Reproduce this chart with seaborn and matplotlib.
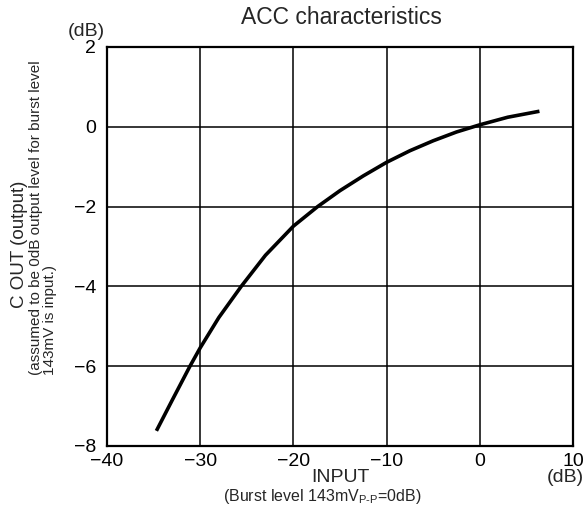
import matplotlib
matplotlib.use("Agg")
import matplotlib.pyplot as plt
import seaborn as sns
import pandas as pd

# Data
input_db = [-34.7, -33.0, -31.1, -30.0, -28.0, -25.6, -23.0, -20.0, -17.4, -15.0,
            -12.5, -10.0, -7.5, -5.0, -2.5, 0.0, 3.0, 6.4]
output_db = [-7.62, -6.85, -6.00, -5.54, -4.78, -4.00, -3.22, -2.49, -2.00, -1.60,
             -1.23, -0.89, -0.60, -0.35, -0.13, 0.05, 0.24, 0.39]
x_ticks = [-40, -30, -20, -10, 0, 10]
y_ticks = [-8, -6, -4, -2, 0, 2]

df = pd.DataFrame({"input": input_db, "output": output_db})

sns.set_style("white")
plt.rcParams["font.family"] = ["Liberation Sans", "DejaVu Sans"]
plt.rcParams["mathtext.fontset"] = "custom"
plt.rcParams["mathtext.rm"] = "Liberation Sans"

W, H = 587, 522
fig = plt.figure(figsize=(W / 100, H / 100), dpi=100)
ax = fig.add_axes([107 / W, 1 - 446 / H, (573 - 107) / W, (446 - 47) / H])

sns.lineplot(data=df, x="input", y="output", ax=ax, color="black", linewidth=2.6,
             sort=False, solid_capstyle="butt", solid_joinstyle="round")

ax.set_xlim(-40, 10)
ax.set_ylim(-8, 2)
ax.set_xticks(x_ticks)
ax.set_yticks(y_ticks)
ax.set_xticklabels([f"\u2212{abs(v)}" if v < 0 else str(v) for v in x_ticks])
ax.set_yticklabels([f"\u2212{abs(v)}" if v < 0 else str(v) for v in y_ticks])
ax.tick_params(axis="both", length=0, labelsize=14, colors="black")
ax.tick_params(axis="x", pad=5)
ax.tick_params(axis="y", pad=8)
ax.grid(True, color="black", linewidth=1.1)
for s in ax.spines.values():
    s.set_visible(True)
    s.set_color("black")
    s.set_linewidth(1.6)
ax.set_xlabel("")
ax.set_ylabel("")

def px(x, y):
    return x / W, 1 - y / H

fig.text(*px(341, 17), "ACC characteristics", ha="center", va="center", fontsize=16.5)
fig.text(*px(86, 31), "(dB)", ha="center", va="center", fontsize=14)
fig.text(*px(565, 478), "(dB)", ha="center", va="center", fontsize=14)
fig.text(*px(340, 478), "INPUT", ha="center", va="center", fontsize=14)
fig.text(*px(322, 496), r"(Burst level 143mV$_{\mathregular{P\text{-}P}}$=0dB)",
         ha="center", va="center", fontsize=11.5)

fig.text(*px(20, 244), "C OUT (output)", ha="center", va="center", rotation=90, fontsize=13.5)
fig.text(*px(36, 375), "(assumed to be 0dB output level for burst level",
         ha="left", va="center", rotation=90, fontsize=11, rotation_mode="anchor")
fig.text(*px(50, 375), "143mV is input.)",
         ha="left", va="center", rotation=90, fontsize=11, rotation_mode="anchor")

fig.savefig("out.png", dpi=100, facecolor="white")
